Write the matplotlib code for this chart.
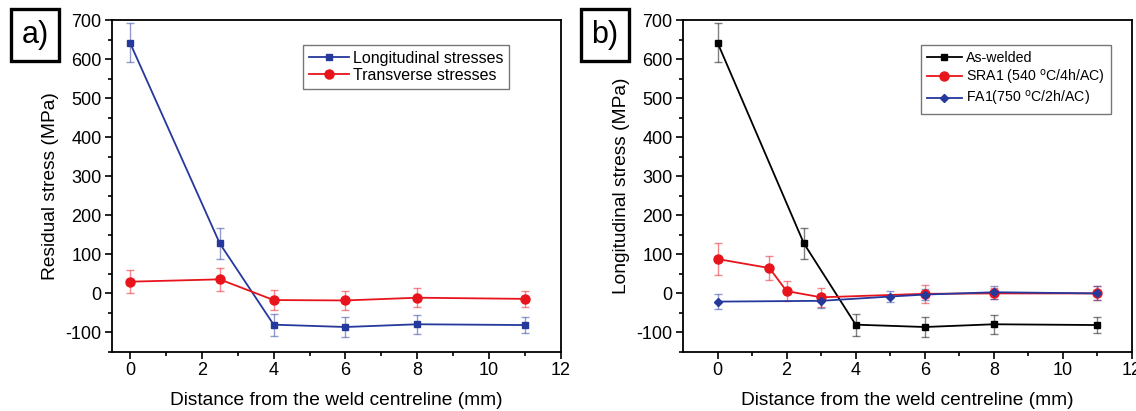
import numpy as np
import matplotlib as mpl
mpl.use('Agg')
import matplotlib.pyplot as plt

mpl.rcParams['font.family'] = 'Liberation Sans'
mpl.rcParams['axes.unicode_minus'] = False

# panel a) data
xa = [0, 2.5, 4, 6, 8, 11]
long_y = [642, 128, -80, -86, -79, -81]
long_err = [50, 40, 28, 25, 25, 20]
trans_y = [30, 36, -17, -18, -11, -14]
trans_err = [30, 30, 25, 25, 25, 20]

# panel b) data
xb_aw = [0, 2.5, 4, 6, 8, 11]
aw_y = [642, 128, -80, -86, -79, -81]
aw_err = [50, 40, 28, 25, 25, 20]
xb_sra = [0, 1.5, 2, 3, 6, 8, 11]
sra_y = [88, 65, 6, -10, -1, 0, 0]
sra_err = [40, 30, 25, 25, 23, 15, 18]
xb_fa = [0, 3, 5, 6, 8, 11]
fa_y = [-21, -19, -8, -3, 3, 0]
fa_err = [20, 18, 15, 15, 17, 18]

blue = '#25389c'
red = '#e8141c'
black = '#000000'

W, H = 1136, 411
fig = plt.figure(figsize=(W / 100, H / 100), dpi=100)

def px(l, r, t, b):
    return [l / W, (H - b) / H, (r - l) / W, (b - t) / H]

def style(ax, xlim, ylabel):
    ax.set_xlim(*xlim)
    ax.set_ylim(-150, 700)
    ax.set_xticks([0, 2, 4, 6, 8, 10, 12])
    ax.set_xticks(np.arange(1, 12, 2), minor=True)
    ax.set_yticks(np.arange(-100, 701, 100))
    ax.set_yticks(np.arange(-150, 700, 100), minor=True)
    ax.tick_params(which='major', direction='out', length=5, width=1.2,
                   labelsize=13, pad=2.5)
    ax.tick_params(which='minor', direction='out', length=3, width=1.2)
    for s in ax.spines.values():
        s.set_linewidth(1.3)
    ax.set_xlabel('Distance from the weld centreline (mm)', fontsize=13.8, labelpad=9)
    ax.set_ylabel(ylabel, fontsize=13.8, labelpad=5)

def series(ax, x, y, err, color, marker, ms, label):
    ax.errorbar(x, y, yerr=err, fmt='none', ecolor=color, alpha=0.5,
                elinewidth=1, capsize=3, capthick=1, zorder=2)
    ax.plot(x, y, color=color, marker=marker, ms=ms, lw=1.3, label=label, zorder=3)

def panel_tag(text, l, t):
    fig.text((l + 27) / W, 1 - (t + 25) / H, text, fontsize=22, ha='center', va='center',
             bbox=dict(boxstyle='square,pad=0.35', fc='white', ec='black', lw=2.4))

# a)
axa = fig.add_axes(px(112, 561, 20, 352))
series(axa, xa, long_y, long_err, blue, 's', 5, 'Longitudinal stresses')
series(axa, xa, trans_y, trans_err, red, 'o', 6.5, 'Transverse stresses')
style(axa, (-0.5, 12), 'Residual stress (MPa)')
leg = axa.legend(loc='upper left', bbox_to_anchor=(303 / W, 1 - 45 / H),
                 bbox_transform=fig.transFigure, borderaxespad=0, fancybox=False,
                 edgecolor='#555555', fontsize=11.5, handlelength=2.5,
                 handletextpad=0.3, labelspacing=0.15, borderpad=0.35)
leg.get_frame().set_linewidth(1)
panel_tag('a)', 8, 10)

# b)
axb = fig.add_axes(px(683, 1132, 20, 352))
series(axb, xb_aw, aw_y, aw_err, black, 's', 5, 'As-welded')
series(axb, xb_sra, sra_y, sra_err, red, 'o', 6.5, 'SRA1 (540 $^{\\mathrm{o}}$C/4h/AC)')
series(axb, xb_fa, fa_y, fa_err, blue, 'D', 4.5, 'FA1(750 $^{\\mathrm{o}}$C/2h/AC)')
style(axb, (-1, 12), 'Longitudinal stress (MPa)')
leg = axb.legend(loc='upper left', bbox_to_anchor=(921 / W, 1 - 45 / H),
                 bbox_transform=fig.transFigure, borderaxespad=0, fancybox=False,
                 edgecolor='#555555', fontsize=10.2, handlelength=2.5,
                 handletextpad=0.3, labelspacing=0.2, borderpad=0.4)
leg.get_frame().set_linewidth(1)
panel_tag('b)', 578, 10)

fig.savefig('out.png', dpi=100)
